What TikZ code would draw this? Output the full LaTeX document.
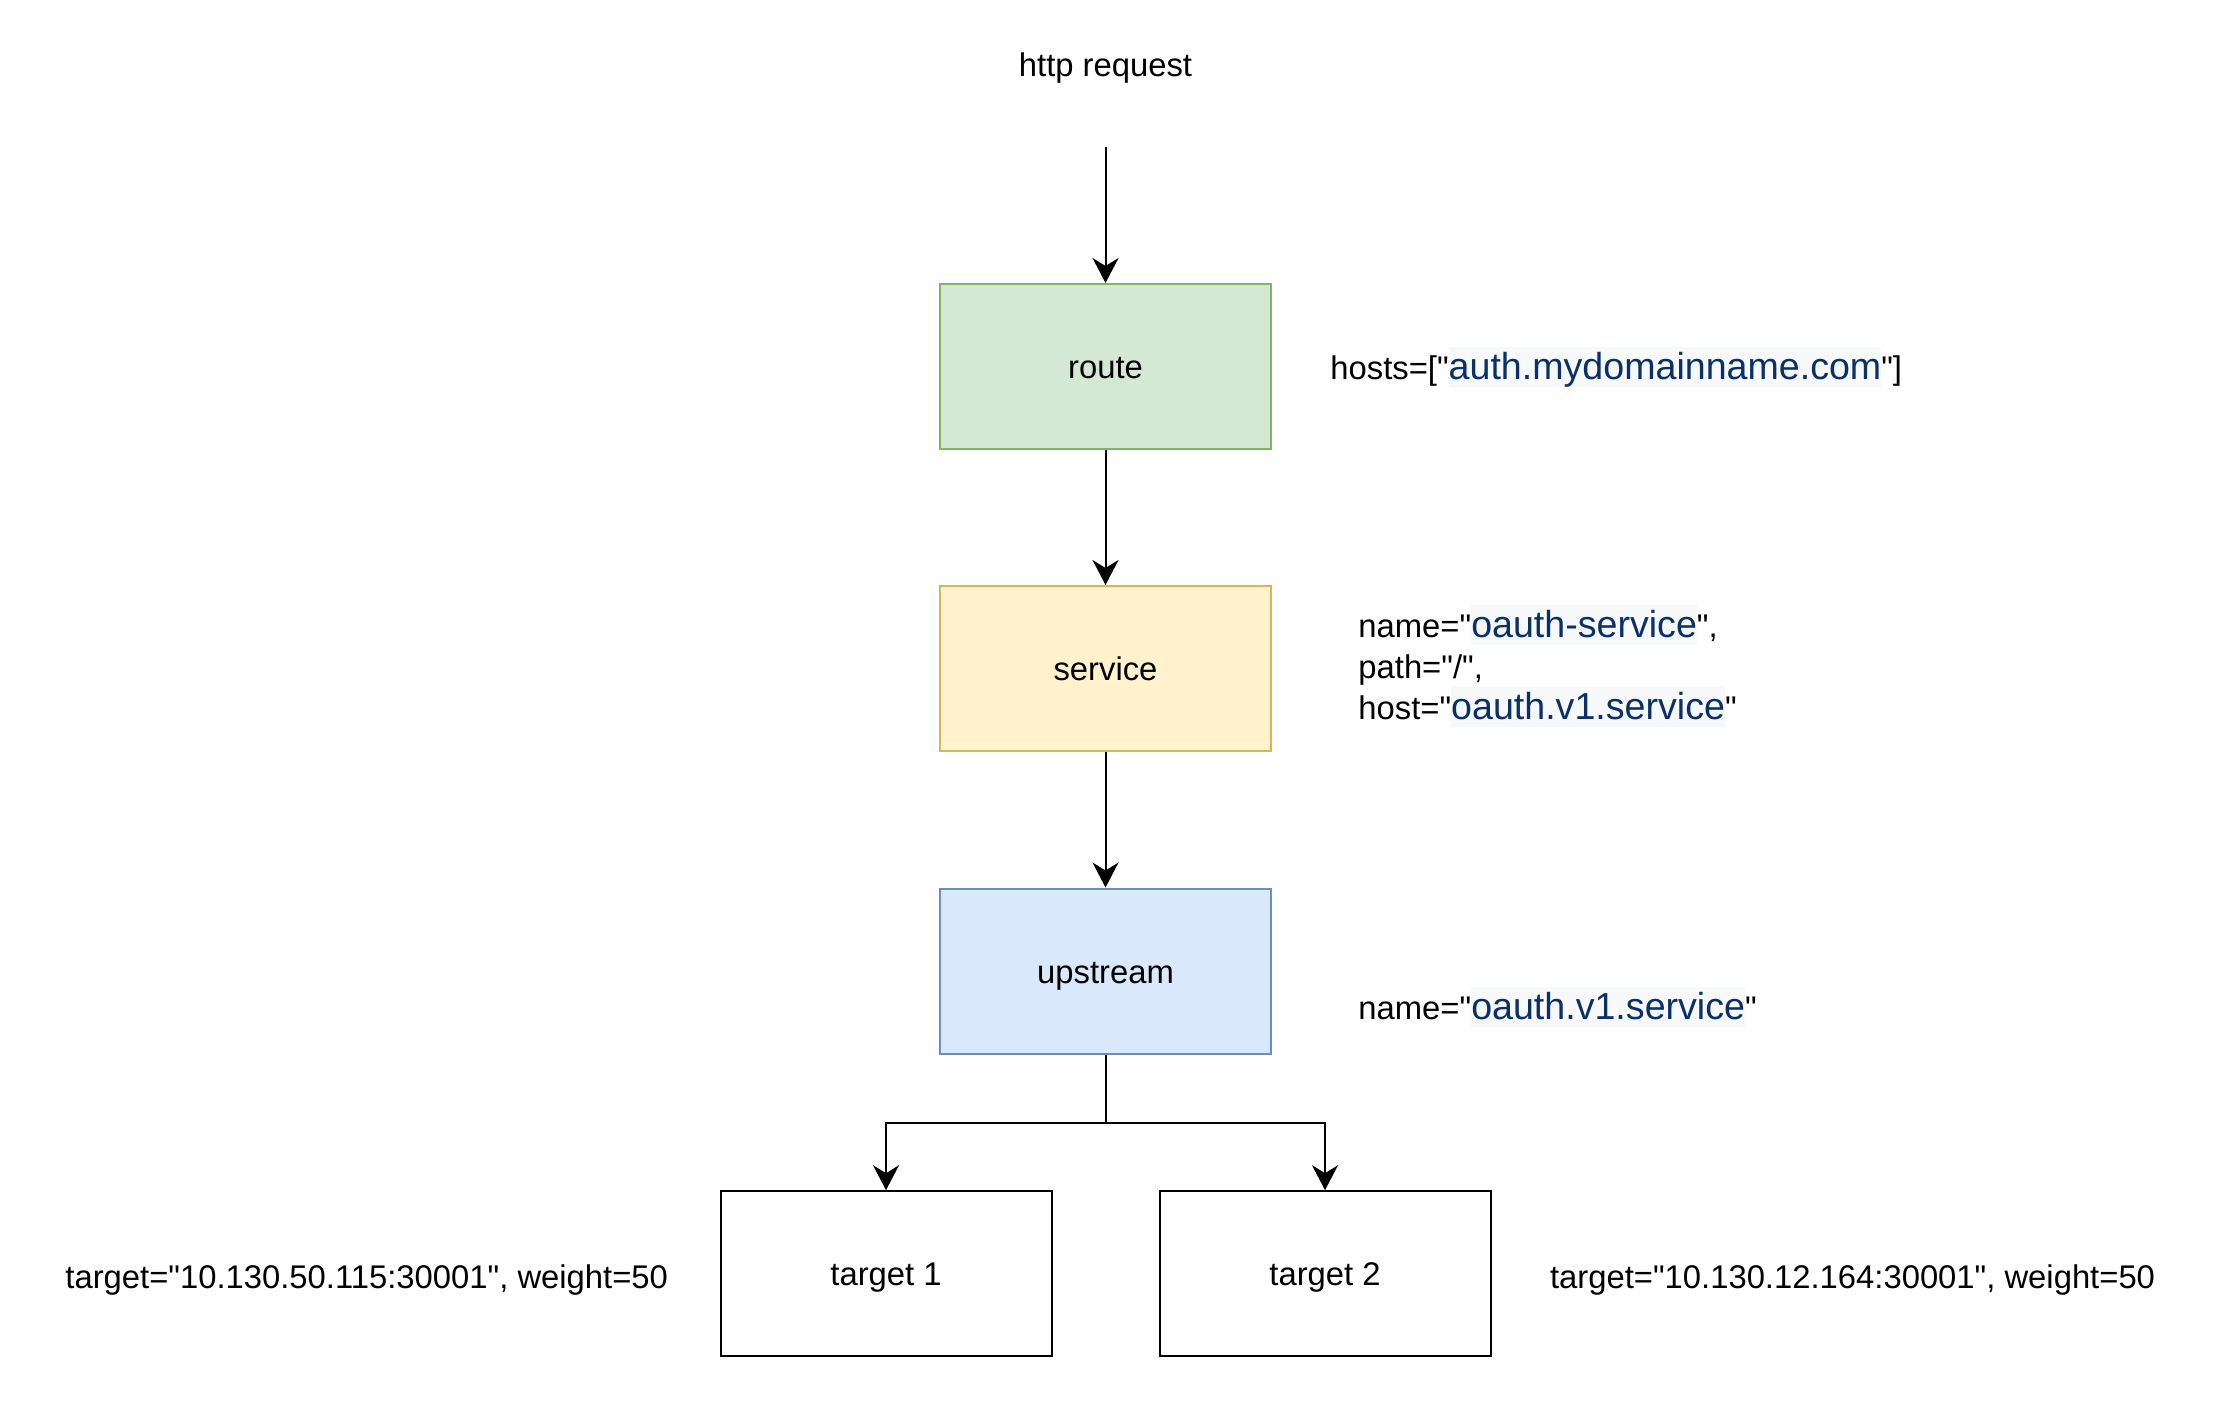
\documentclass[tikz,border=0pt]{standalone}
\usepackage{fontspec}
\setmainfont{Liberation Sans}[Ligatures=TeXOff]
\usetikzlibrary{arrows.meta}
\definecolor{gfill}{HTML}{D5E8D4}
\definecolor{gdraw}{HTML}{82B366}
\definecolor{yfill}{HTML}{FFF2CC}
\definecolor{ydraw}{HTML}{D6B656}
\definecolor{bfill}{HTML}{DAE8FC}
\definecolor{bdraw}{HTML}{6C8EBF}
\definecolor{strcol}{HTML}{0A3069}
\definecolor{hlbg}{HTML}{F6F8FA}
\newcommand{\qq}{\symbol{34}}
\newcommand{\hlstr}[1]{{\setlength{\fboxsep}{0pt}\colorbox{hlbg}{\rule[-4.2pt]{0pt}{20pt}\fontsize{18.8}{22}\selectfont\color{strcol}#1}}}
\tikzset{
  box/.style={rectangle, draw=black, line width=1pt, minimum width=165.5pt, minimum height=82.5pt,
    inner sep=0pt, text height=14pt, text depth=2pt, font=\fontsize{16.4}{19.6}\selectfont},
  lbl/.style={inner sep=0pt, anchor=base west, font=\fontsize{16.4}{19.6}\selectfont},
  arr/.style={line width=1pt, -{Stealth[length=12.5pt,width=13pt,inset=4pt]}}
}
\begin{document}
\begin{tikzpicture}[x=0.5pt, y=-0.5pt]
\useasboundingbox[fill=white] (0,0) rectangle (2221,1407);

\node[inner sep=0pt, anchor=base, font=\fontsize{16.4}{19.6}\selectfont] (http) at (1105.5,77) {http request};
\coordinate (start) at (1105.5,147);

\node[box, fill=gfill, draw=gdraw] (route) at (1105.5,366.5) {route};
\node[box, fill=yfill, draw=ydraw] (service) at (1105.5,668.5) {service};
\node[box, fill=bfill, draw=bdraw] (upstream) at (1105.5,971) {upstream};
\node[box] (t1) at (886,1273.7) {target 1};
\node[box] (t2) at (1325,1273.7) {target 2};

\coordinate (split) at (1105.5,1123);

\draw[arr] (start) -- (route.north);
\draw[arr] (route.south) -- (service.north);
\draw[arr] (service.south) -- (upstream.north);
\draw[arr] (upstream.south) -- (split) -| (t1.north);
\draw[arr] (upstream.south) -- (split) -| (t2.north);

\node[lbl] (hosts) at (1330,379) {hosts=[\qq\hlstr{auth.mydomainname.com}\qq]};
\node[lbl] (sv1) at (1358,637) {name=\qq\hlstr{oauth-service}\qq,};
\node[lbl] (sv2) at (1358,678) {path=\qq/\qq,};
\node[lbl] (sv3) at (1358,719) {host=\qq\hlstr{oauth.v1.service}\qq};
\node[lbl] (upn) at (1358,1019) {name=\qq\hlstr{oauth.v1.service}\qq};
\node[lbl] (tl1) at (65,1288) {target=\qq10.130.50.115:30001\qq, weight=50};
\node[lbl] (tl2) at (1549.6,1288) {target=\qq10.130.12.164:30001\qq, weight=50};
\end{tikzpicture}
\end{document}
